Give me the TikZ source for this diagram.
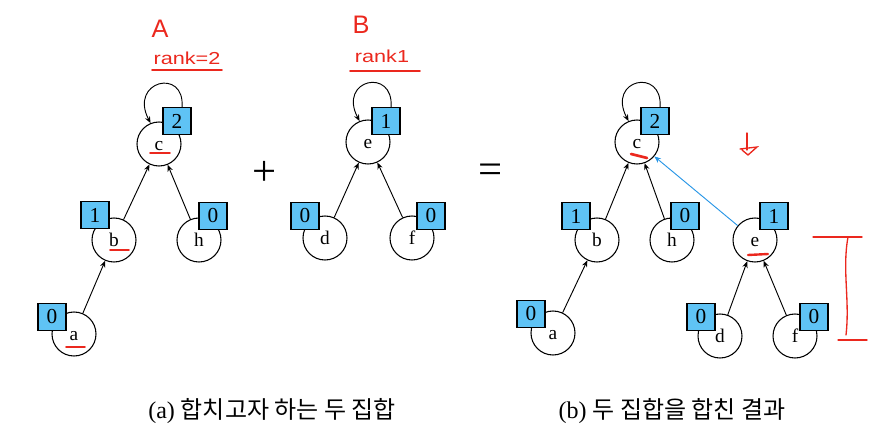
\documentclass[tikz,border=0pt]{standalone}
\usepackage{fontspec}
\setmainfont{Liberation Serif}
\newfontfamily\kofont{Noto Sans CJK KR}
\newfontfamily\penfont{Liberation Sans}
\usetikzlibrary{arrows.meta}
\definecolor{rankblue}{RGB}{95,195,245}
\definecolor{penred}{RGB}{235,40,30}
\definecolor{linkblue}{RGB}{40,150,230}
\begin{document}
\begin{tikzpicture}[x=0.75pt,y=0.75pt,yscale=-1,xscale=1,
  vtx/.style={circle,draw,line width=0.8pt,minimum size=33pt,inner sep=0pt,text height=10pt,text depth=0pt,font=\fontsize{14.5}{14.5}\selectfont},
  rnk/.style={rectangle,draw,line width=0.8pt,fill=rankblue,minimum width=21pt,minimum height=20pt,inner sep=0pt,font=\fontsize{16}{16}\selectfont},
  edge/.style={line width=0.7pt,-{Stealth[length=5pt,width=4pt]}},
  redpen/.style={penred,line width=1.3pt,line cap=round},
  pentext/.style={penred,inner sep=0pt,font=\penfont}]
\useasboundingbox (0,0) rectangle (895,435);
\node[vtx] (cA) at (159,144) {c};
\node[vtx] (bA) at (114,240) {b};
\node[vtx] (hA) at (199,240) {h};
\node[vtx] (aA) at (74,334) {a};
\node[rnk] (rcA) at (177,121) {2};
\node[rnk] (rbA) at (95,215) {1};
\node[rnk] (rhA) at (213,216) {0};
\node[rnk] (raA) at (52,317) {0};
\draw[edge] (bA) -- (cA);
\draw[edge] (hA) -- (cA);
\draw[edge] (aA) -- (bA);
\draw[edge] (rcA.70) .. controls +(3,-40) and +(-22,-42) .. (cA.112);
\node[vtx] (eB) at (368,142) {e};
\node[vtx] (dB) at (325,238) {d};
\node[vtx] (fB) at (412,238) {f};
\node[rnk] (reB) at (386,121) {1};
\node[rnk] (rdB) at (305,216) {0};
\node[rnk] (rfB) at (431,216) {0};
\draw[edge] (dB) -- (eB);
\draw[edge] (fB) -- (eB);
\draw[edge] (reB.70) .. controls +(3,-40) and +(-22,-42) .. (eB.112);
\node[font=\fontsize{32}{32}\selectfont] (plus) at (265,173) {+};
\node[font=\fontsize{32}{32}\selectfont] (eq) at (491,174) {=};
\node[vtx] (cR) at (637,142) {c};
\node[vtx] (bR) at (597,240) {b};
\node[vtx] (hR) at (672,240) {h};
\node[vtx] (eR) at (755,240) {e};
\node[vtx] (aR) at (553,333) {a};
\node[vtx] (dR) at (720,336) {d};
\node[vtx] (fR) at (795,336) {f};
\node[rnk] (rcR) at (655,121) {2};
\node[rnk] (rbR) at (576,216) {1};
\node[rnk] (rhR) at (685,216) {0};
\node[rnk] (reR) at (774,216) {1};
\node[rnk] (raR) at (531,314) {0};
\node[rnk] (rdR) at (701,317) {0};
\node[rnk] (rfR) at (814,317) {0};
\draw[edge] (bR) -- (cR);
\draw[edge] (hR) -- (cR);
\draw[edge] (aR) -- (bR);
\draw[edge] (dR) -- (eR);
\draw[edge] (fR) -- (eR);
\draw[edge,linkblue] (eR) -- (cR);
\draw[edge] (rcR.70) .. controls +(3,-40) and +(-22,-42) .. (cR.112);
\node[pentext,font=\penfont\fontsize{19}{19}\selectfont] (nameA) at (160,29) {A};
\node[pentext,font=\penfont\fontsize{13}{13}\selectfont,xscale=1.25] (rankA) at (187,58) {rank=2};
\draw[redpen] (152,70) -- (222,70);
\node[pentext,font=\penfont\fontsize{19}{19}\selectfont] (nameB) at (361,25) {B};
\node[pentext,font=\penfont\fontsize{13}{13}\selectfont,xscale=1.25] (rankB) at (382,56) {rank1};
\draw[redpen] (350,71) -- (420,71);
\draw[redpen] (150,153) -- (170,153);
\draw[redpen] (110,250) -- (129,250);
\draw[redpen] (66,347) -- (85,347);
\draw[redpen,line width=2pt] (631,154) -- (647,158);
\draw[redpen,line width=1.8pt] (748,255) -- (768,254);
\draw[redpen,line width=1pt] (747,133) -- (747,150);
\draw[redpen,line width=1pt] (740,149) -- (757,147) -- (748,155) -- (742,150);
\draw[redpen,line width=1pt] (813,237) -- (862,237);
\draw[redpen,line width=1pt] (848,237) .. controls (842,270) and (850,300) .. (846,335);
\draw[redpen,line width=1pt] (838,340) -- (867,340);
\node[font=\fontsize{18}{18}\selectfont] (capA) at (272,411) {(a) {\kofont 합치고자 하는 두 집합}};
\node[font=\fontsize{18}{18}\selectfont] (capB) at (672,411) {(b) {\kofont 두 집합을 합친 결과}};
\end{tikzpicture}
\end{document}
